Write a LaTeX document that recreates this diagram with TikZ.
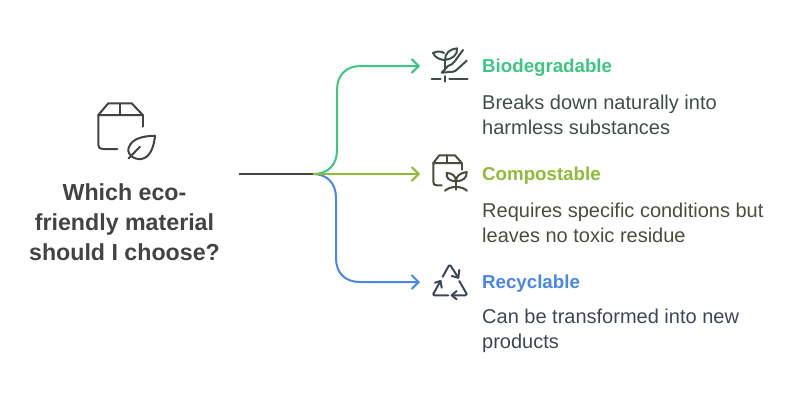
\documentclass[tikz,border=0pt]{standalone}
\usepackage{fontspec}
\setmainfont{Liberation Sans}
\usetikzlibrary{arrows.meta}
\definecolor{greenc}{HTML}{3CC583}
\definecolor{limec}{HTML}{8FBC38}
\definecolor{bluec}{HTML}{4A86E8}
\definecolor{darkc}{HTML}{434343}
\definecolor{greent}{HTML}{3F4F48}
\definecolor{limet}{HTML}{4A4D3E}
\definecolor{bluet}{HTML}{3D4658}
\tikzstyle{branch} = [draw,line width=2pt,-{Straight Barb[length=7pt,width=14pt,line width=2pt]}]
\tikzstyle{stem} = [draw,darkc,line width=2pt]
\tikzstyle{icon} = [line width=2pt,line cap=round,line join=round]
\tikzstyle{question} = [darkc,font=\fontsize{23.2}{30}\selectfont\bfseries,align=center,inner sep=0pt]
\tikzstyle{heading} = [font=\fontsize{18.7}{22}\selectfont\bfseries,anchor=west,inner sep=0pt]
\tikzstyle{details} = [font=\fontsize{20}{25}\selectfont,anchor=west,align=left,inner sep=0pt]

\begin{document}
\begin{tikzpicture}[x=1pt,y=-1pt]
    \useasboundingbox (0,0) rectangle (804,402);
    % First we place the texts
    \node[question] (question) at (124.5,222) {Which eco-\\friendly material\\should I choose?};
    \foreach \ypos/\name/\colr/\txtcolr/\title/\body in {
        66/bio/greenc/greent/Biodegradable/{Breaks down naturally into\\harmless substances},
        174/comp/limec/limet/Compostable/{Requires specific conditions but\\leaves no toxic residue},
        282/rec/bluec/bluet/Recyclable/{Can be transformed into new\\products}}{
        \coordinate (\name-end) at (420,\ypos);
        \node[heading,text=\colr] (\name) at (482,\ypos+1.5) {\title};
        \node[details,text=\txtcolr] (\name-text) at (482,\ypos+48.5) {\body};
    }
    % Then the connectors
    \coordinate (start) at (239,174);
    \coordinate (fork) at (313,174);
    \path[stem] (start) -- (fork);
    \path[branch,greenc] (fork) .. controls (328,174) and (337,165) .. (337,150) -- (337,90)
        .. controls (337,75) and (346,66) .. (361,66) -- (bio-end);
    \path[branch,bluec] (fork) .. controls (327,174) and (336,183) .. (336,198) -- (336,258)
        .. controls (336,273) and (345,282) .. (360,282) -- (rec-end);
    \path[branch,limec] (fork) -- (comp-end);
    % Box with a leaf
    \begin{scope}[icon,draw=darkc]
        \draw (98.3,115) -- (108.3,103.3) -- (131.7,103.3) -- (142.7,115) -- cycle;
        \draw (120,103.3) -- (120,115);
        \draw (98.3,115) -- (98.3,145) .. controls (98.3,148) and (100,149) .. (103,149) -- (117.3,149);
        \draw (142.7,115) -- (142.7,126.7);
        \draw (155,135.7) .. controls (142,136) and (132,139) .. (129,147)
            .. controls (126,153) and (133,160) .. (141,159) .. controls (150,158) and (154,147) .. (155,135.7);
        \draw (128.5,158.5) -- (140,146.7);
    \end{scope}
    % Plant and hand
    \begin{scope}[icon,draw=greent]
        \draw (445,81.7) -- (445,76) (445,70) -- (445,60);
        \draw (445,60) .. controls (445,53) and (450,49) .. (457,48.3) .. controls (458,55) and (452,59) .. (445,60);
        \draw (445,60) .. controls (441,60) and (435,58) .. (433,53) .. controls (437,51) and (441,51) .. (444,53);
        \draw (431.7,79.3) -- (440.7,79.3) (449.3,79.3) -- (467.7,79.3);
        \draw (463,50) -- (455,61) .. controls (453,64) and (451,65) .. (448,66) -- (441.7,72.7) -- (453,71.7) .. controls (455,71.5) and (456,70.5) .. (457,69.5) -- (466.7,60.7);
    \end{scope}
    % Box with a sprout
    \begin{scope}[icon,draw=limet]
        \draw (433.3,163) -- (439.3,155.3) -- (455,155.3) -- (461.7,163) -- cycle;
        \draw (446.7,155.3) -- (446.7,163);
        \draw (433.3,163) -- (433.3,182) .. controls (433.3,184.5) and (434.5,185.3) .. (437,185.3) -- (441.7,185.3);
        \draw (461.7,163) -- (461.7,169.7);
        \draw (456,189.7) -- (456,181.3);
        \draw (456,181.3) .. controls (449,181) and (446,178) .. (446.7,173) .. controls (452,173) and (456,176) .. (456,181.3);
        \draw (456,181.3) .. controls (463,181) and (467,178) .. (466.7,172) .. controls (460,173) and (456,176) .. (456,181.3);
        \draw (445,190.7) .. controls (448,188) and (452,187) .. (456,187) .. controls (460,187) and (464,188) .. (467,190.7);
    \end{scope}
    % Three arrows
    \begin{scope}[icon,draw=bluet]
        \draw (442.7,276.7) -- (449,265.5) -- (450.5,265.5) -- (458.3,277.7);
        \draw (459.3,270) -- (458.3,277.7) -- (451.7,276);
        \draw (459.3,281) -- (466.7,294) -- (465.5,295.3) -- (451.7,295.3);
        \draw (456.7,291) -- (451.7,295.3) -- (456.7,299.3);
        \draw (448.3,295.3) -- (434,295.3) -- (433.3,294) -- (440.5,281);
        \draw (435,282.7) -- (440.5,281) -- (441.7,287.7);
    \end{scope}
\end{tikzpicture}
\end{document}
